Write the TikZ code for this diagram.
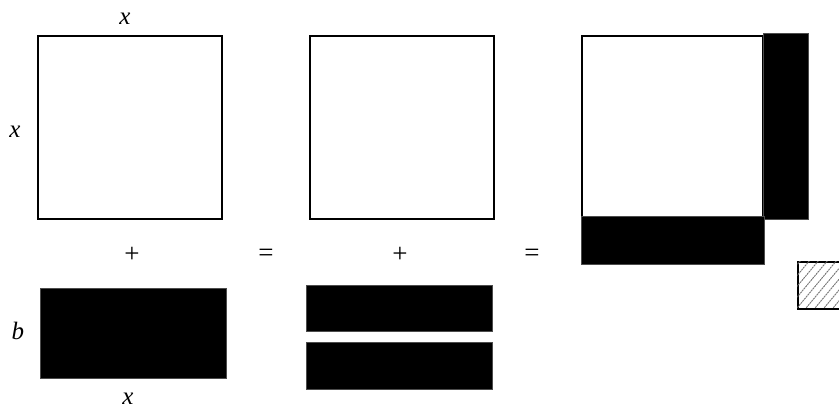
\documentclass[tikz,border=0pt]{standalone}
\usepackage{fontspec}
\setmainfont{Liberation Serif}
\usetikzlibrary{calc}
\begin{document}
\begin{tikzpicture}[x=1pt,y=1pt,
  sq/.style={draw=black,line width=2pt,fill=white,inner sep=0pt,minimum width=184pt,minimum height=183pt},
  blk/.style={draw=black!70,line width=0.6pt,fill=black,inner sep=0pt},
  lbl/.style={font=\fontsize{25}{28}\selectfont\itshape,inner sep=0pt},
  op/.style={font=\fontsize{27}{30}\selectfont,inner sep=0pt},
  hatch/.style={draw=black!55,line width=0.9pt,dash pattern=on 2pt off 0.7pt}]
\useasboundingbox (0,0) rectangle (839,-410);
% first column
\node[sq] (s1) at (130,-127.5) {};
\node[lbl] (tx) at (125,-19) {x};
\node[lbl] (lx) at (15,-132) {x};
\node[op] (p1) at (132,-255) {+};
\node[blk,minimum width=186pt,minimum height=90pt] (b1) at (133,-333) {};
\node[lbl] (lb) at (18,-331) {b};
\node[lbl] (bx) at (128,-399) {x};
% equals
\node[op] (e1) at (266,-255) {=};
% second column
\node[sq] (s2) at (402,-127.5) {};
\node[op] (p2) at (400,-255) {+};
\node[blk,minimum width=186pt,minimum height=46pt] (b2a) at (399,-308) {};
\node[blk,minimum width=186pt,minimum height=47pt] (b2b) at (399,-365.5) {};
% equals
\node[op] (e2) at (532,-255) {=};
% third column
\node[draw=black,line width=2pt,fill=white,inner sep=0pt,minimum width=181pt,minimum height=181pt] (s3) at (672.5,-126.5) {};
\node[blk,minimum width=45pt,minimum height=186pt] (r3) at (785.5,-126) {};
\node[blk,minimum width=183pt,minimum height=48pt] (d3) at (672.5,-240) {};
\node[draw=black,line width=1.5pt,inner sep=0pt,minimum width=47pt,minimum height=47pt] (h) at (821.5,-285.5) {};
\begin{scope}
  \clip (h.south west) rectangle (h.north east);
  \foreach \k in {-45,-36,...,50} {
    \draw[hatch] ($(h.south west)+(\k,2)$) -- ++(40,48);
  }
\end{scope}
\end{tikzpicture}
\end{document}
